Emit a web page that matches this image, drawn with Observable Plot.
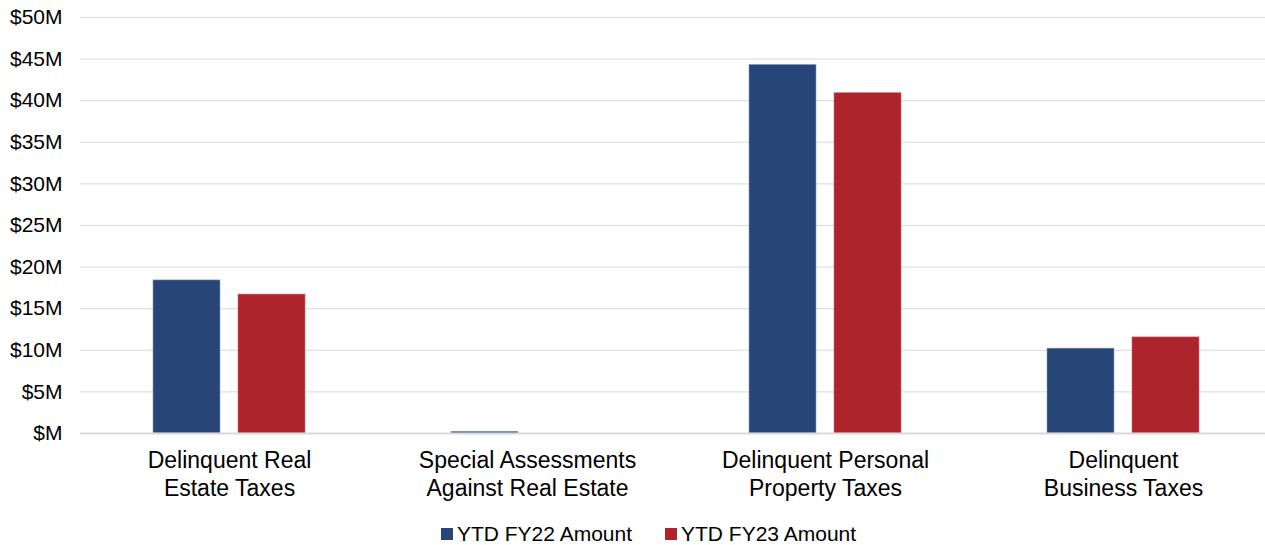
<!DOCTYPE html>
<html>
<head>
<meta charset="utf-8">
<script src="https://cdn.jsdelivr.net/npm/d3@7"></script>
<script src="https://cdn.jsdelivr.net/npm/@observablehq/plot@0.6"></script>
<style>
  html, body { margin: 0; padding: 0; background: #fff; overflow: hidden; }
  body { width: 1265px; font-family: "Liberation Sans", Arial, sans-serif; }
  #legend { display: flex; justify-content: center; gap: 33px; font-size: 21px; color: #000; margin-top: 12px; padding-left: 32px; }
  #legend .item { display: flex; align-items: center; }
  #legend .sw { width: 12px; height: 12px; margin-right: 4px; }
</style>
</head>
<body>
<div id="chart"></div>
<div id="legend"></div>
<script>
const categories = [
  "Delinquent Real Estate Taxes",
  "Special Assessments Against Real Estate",
  "Delinquent Personal Property Taxes",
  "Delinquent Business Taxes"
];
const categoryLabels = [
  "Delinquent Real\nEstate Taxes",
  "Special Assessments\nAgainst Real Estate",
  "Delinquent Personal\nProperty Taxes",
  "Delinquent\nBusiness Taxes"
];
const series = ["YTD FY22 Amount", "YTD FY23 Amount"];
const fy22 = [18.4, 0.2, 44.3, 10.2];   // $M
const fy23 = [16.7, 0.0, 40.9, 11.55];  // $M
const yTicks = [0, 5, 10, 15, 20, 25, 30, 35, 40, 45, 50];
const yTickLabels = ["$M", "$5M", "$10M", "$15M", "$20M", "$25M", "$30M", "$35M", "$40M", "$45M", "$50M"];
const colors = ["#274577", "#AD242C"];

const rows22 = categories.map((c, i) => ({category: c, series: series[0], value: fy22[i]}));
const rows23 = categories.map((c, i) => ({category: c, series: series[1], value: fy23[i]}));

const chart = Plot.plot({
  width: 1265,
  height: 510,
  marginLeft: 80,
  marginRight: 0,
  marginTop: 17,
  marginBottom: 77,
  style: {fontFamily: "'Liberation Sans', Arial, sans-serif", fontSize: "21px", color: "#000", background: "#fff"},
  x: {domain: categories, range: [80, 1272], padding: 0, label: null},
  y: {domain: [0, 50], label: null},
  color: {domain: series, range: colors},
  marks: [
    Plot.gridY(yTicks, {stroke: "#d9d9d9", strokeOpacity: 1}),
    Plot.barY(rows22, {x: "category", y: "value", fill: "series", insetLeft: 73, insetRight: 158, stroke: "#8a9cc0", strokeWidth: 0.6}),
    Plot.barY(rows23, {x: "category", y: "value", fill: "series", insetLeft: 158, insetRight: 73, stroke: "#d06a70", strokeWidth: 0.6}),
    Plot.ruleY([0], {stroke: "#d9d9d9", strokeWidth: 2}),
    Plot.axisY(yTicks, {tickSize: 0, tickPadding: 18, fontSize: 21, tickFormat: d => yTickLabels[yTicks.indexOf(d)], label: null}),
    Plot.axisX({tickSize: 0, tickPadding: 15, fontSize: 23, lineHeight: 1.22, tickFormat: d => categoryLabels[categories.indexOf(d)], label: null})
  ]
});
document.getElementById("chart").appendChild(chart);

const legend = document.getElementById("legend");
series.forEach((s, i) => {
  const item = document.createElement("div");
  item.className = "item";
  const sw = document.createElement("span");
  sw.className = "sw";
  sw.style.background = colors[i];
  const label = document.createElement("span");
  label.textContent = s;
  item.appendChild(sw);
  item.appendChild(label);
  legend.appendChild(item);
});
</script>
</body>
</html>
